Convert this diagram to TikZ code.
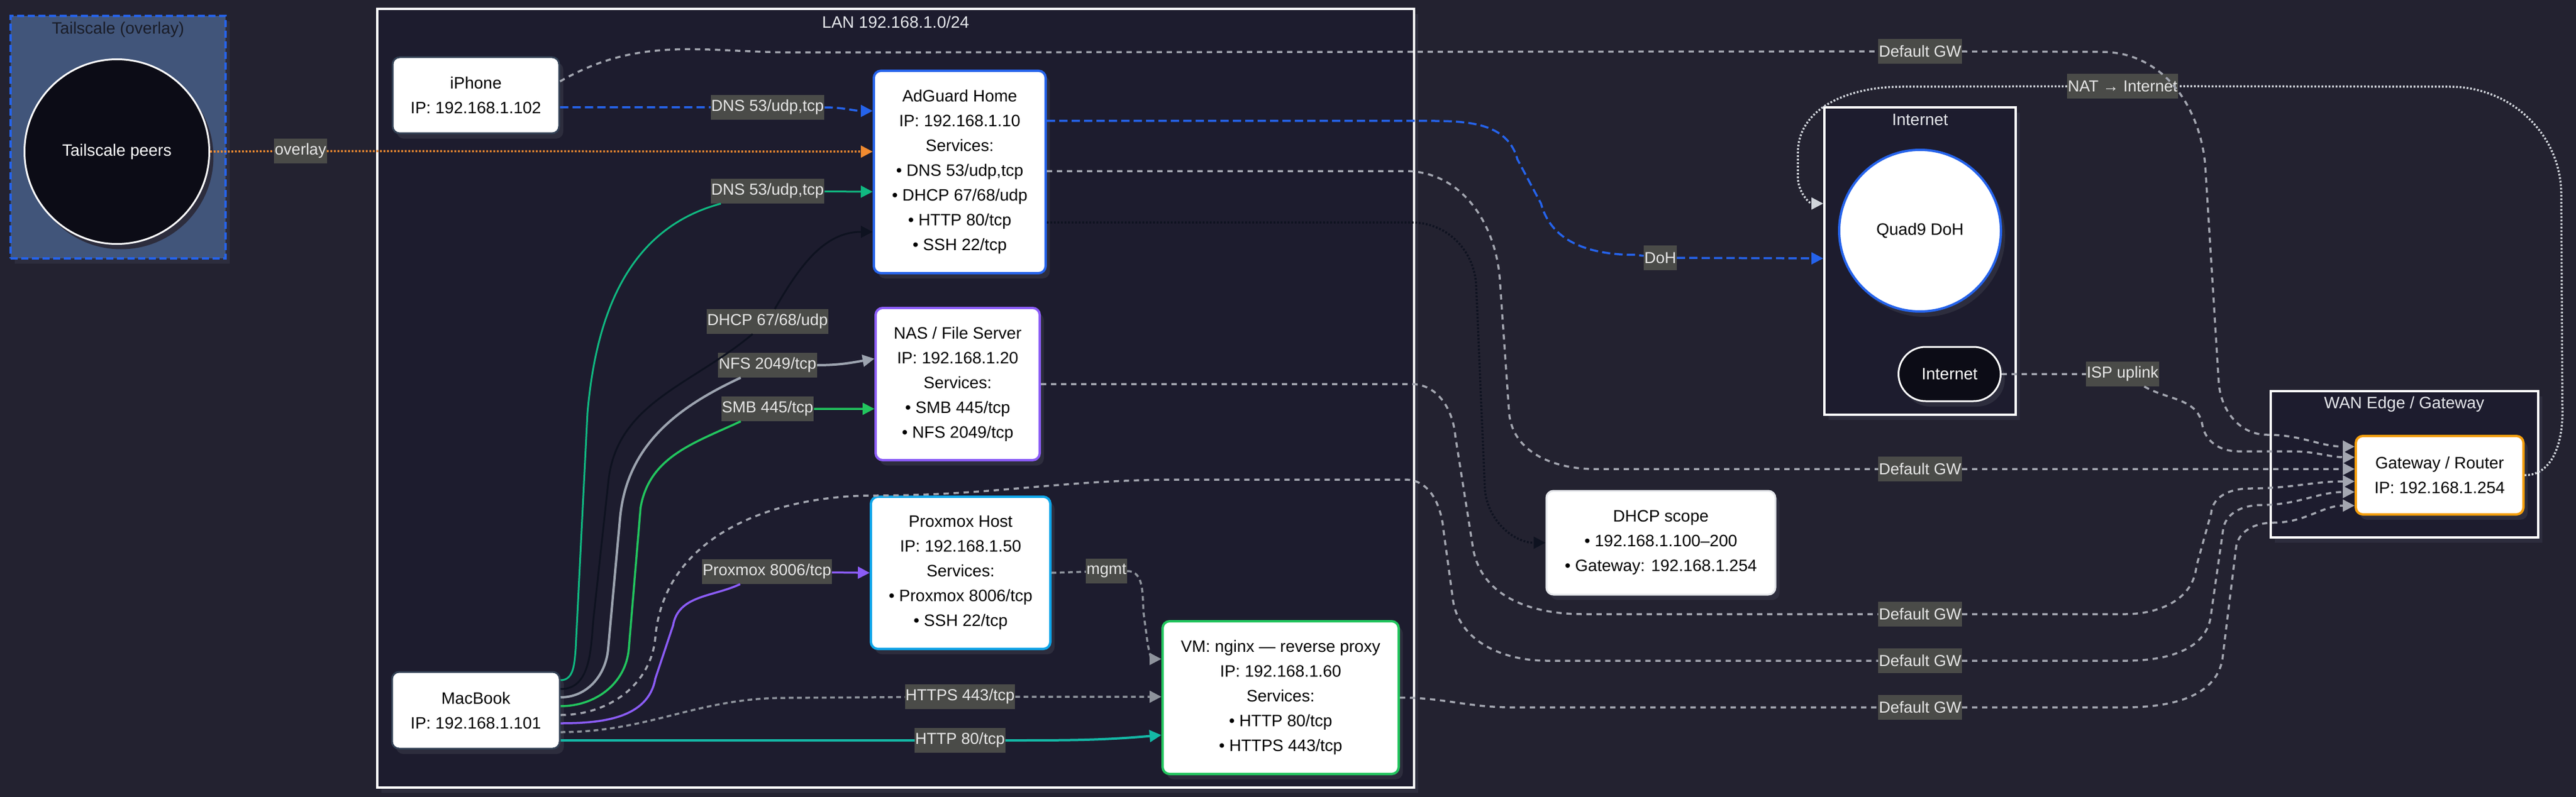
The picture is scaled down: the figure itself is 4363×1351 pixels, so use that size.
\documentclass[tikz,border=0pt]{standalone}
\usepackage{fontspec}
\setmainfont{Liberation Sans}
\usetikzlibrary{arrows.meta,shadows}

\definecolor{bgc}{HTML}{232230}
\definecolor{clusterc}{HTML}{1D1C2E}
\definecolor{shadowc}{HTML}{2D2D3D}
\definecolor{tailfill}{HTML}{41557A}
\definecolor{tailtext}{HTML}{1A1D28}
\definecolor{peerc}{HTML}{0C0C16}
\definecolor{titlec}{HTML}{E5E7EB}
\definecolor{lblc}{HTML}{4A4B48}
\definecolor{lbltext}{HTML}{E6E6E6}
\definecolor{slateb}{HTML}{334155}
\definecolor{dnsblue}{HTML}{2563EB}
\definecolor{dnsgreen}{HTML}{10B981}
\definecolor{smbc}{HTML}{22C55E}
\definecolor{nasviolet}{HTML}{8B5CF6}
\definecolor{pxcyan}{HTML}{0EA5E9}
\definecolor{vmgreen}{HTML}{22C55E}
\definecolor{gwamber}{HTML}{F59E0B}
\definecolor{scopec}{HTML}{E5E7EB}
\definecolor{overlayc}{HTML}{F28B30}
\definecolor{gwc}{HTML}{A3A6B0}
\definecolor{natc}{HTML}{D1D5DB}
\definecolor{nfsc}{HTML}{9CA3AF}
\definecolor{httpsc}{HTML}{8E939C}
\definecolor{httpc}{HTML}{14B8A6}
\definecolor{darkc}{HTML}{0E1220}

\newcommand{\hostfont}{\fontsize{28}{42}\selectfont}
\newcommand{\lblfont}{\fontsize{27}{32}\selectfont}

\begin{document}
\begin{tikzpicture}
	[x=1pt, y=1pt,
	shade box/.style = {drop shadow={shadow xshift=7pt, shadow yshift=-9pt, fill=shadowc, opacity=1}},
	host/.style = {draw=slateb, line width=3pt, fill=white, rounded corners=12pt,
		text=black, align=center, font=\hostfont, inner sep=0pt, shade box},
	cluster/.style = {draw=white, line width=4pt, fill=clusterc, inner sep=0pt, shade box},
	ctitle/.style = {text=titlec, font=\hostfont},
	lbl/.style = {fill=lblc, text=lbltext, font=\lblfont, inner xsep=1pt, inner ysep=0pt, minimum height=42pt},
	wire/.style = {line width=3.5pt, -{Triangle[length=20pt, width=20pt]}},
	dgw/.style = {wire, draw=gwc, dash pattern=on 9pt off 8pt},
	fine/.style = {wire, dash pattern=on 3pt off 3pt}]
	\fill[bgc] (0,0) rectangle (4363,-1351);
	\useasboundingbox (0,0) rectangle (4363,-1351);

	\node[cluster, draw=dnsblue, fill=tailfill, dash pattern=on 12pt off 6pt, minimum width=364pt, minimum height=411pt] (tailnet) at (200,-232.5) {};
	\node[cluster, minimum width=1756pt, minimum height=1320pt] (lan) at (1517,-675) {};
	\node[cluster, minimum width=324pt, minimum height=521pt] (inetc) at (3252,-442.5) {};
	\node[cluster, minimum width=453pt, minimum height=248pt] (wan) at (4072.5,-787) {};
	\node[ctitle, text=tailtext] (tailtitle) at (200,-50) {Tailscale (overlay)};
	\node[ctitle] (lantitle) at (1517,-37) {LAN 192.168.1.0/24};
	\node[ctitle] (inettitle) at (3252,-203) {Internet};
	\node[ctitle] (wantitle) at (4072,-685) {WAN Edge / Gateway};

	\node[host, minimum width=282pt, minimum height=129pt] (iphone) at (806,-161.5) {iPhone\\IP: 192.168.1.102};
	\node[host, draw=dnsblue, line width=4pt, minimum width=291pt, minimum height=343pt] (adguard) at (1625.5,-291.5)
		{AdGuard Home\\IP: 192.168.1.10\\Services:\\• DNS 53/udp,tcp\\• DHCP 67/68/udp\\• HTTP 80/tcp\\• SSH 22/tcp};
	\node[host, draw=nasviolet, line width=4pt, minimum width=278pt, minimum height=258pt] (nas) at (1622,-651)
		{NAS / File Server\\IP: 192.168.1.20\\Services:\\• SMB 445/tcp\\• NFS 2049/tcp};
	\node[host, draw=pxcyan, line width=4pt, minimum width=304pt, minimum height=258pt] (proxmox) at (1627,-971)
		{Proxmox Host\\IP: 192.168.1.50\\Services:\\• Proxmox 8006/tcp\\• SSH 22/tcp};
	\node[host, draw=vmgreen, line width=4pt, minimum width=400pt, minimum height=259pt] (vm) at (2169,-1182.5)
		{VM: nginx — reverse proxy\\IP: 192.168.1.60\\Services:\\• HTTP 80/tcp\\• HTTPS 443/tcp};
	\node[host, minimum width=284pt, minimum height=130pt] (macbook) at (806,-1204) {MacBook\\IP: 192.168.1.101};
	\node[host, draw=scopec, minimum width=388pt, minimum height=176pt] (scope) at (2813,-920)
		{DHCP scope\\• 192.168.1.100–200\\• Gateway: 192.168.1.254};
	\node[host, draw=gwamber, line width=4pt, minimum width=284pt, minimum height=133pt] (gateway) at (4132,-805.5) {Gateway / Router\\IP: 192.168.1.254};
	\node[host, circle, draw=dnsblue, line width=4pt, minimum size=274pt] (quad9) at (3252,-391) {Quad9 DoH};
	\node[host, fill=peerc, draw=white, text=white, rounded corners=46pt, minimum width=173pt, minimum height=92pt] (inet) at (3302,-634) {Internet};
	\node[host, circle, fill=peerc, draw=white, text=white, minimum size=313pt] (peers) at (198,-257) {Tailscale peers};

	\node[lbl] (l_overlay) at (509,-256) {overlay};
	\node[lbl] (l_dns1) at (1300,-182) {DNS 53/udp,tcp};
	\node[lbl] (l_dns2) at (1300,-324) {DNS 53/udp,tcp};
	\node[lbl] (l_dhcp) at (1300,-545) {DHCP 67/68/udp};
	\node[lbl] (l_nfs) at (1300,-619) {NFS 2049/tcp};
	\node[lbl] (l_smb) at (1300,-693) {SMB 445/tcp};
	\node[lbl] (l_px) at (1299,-969) {Proxmox 8006/tcp};
	\node[lbl] (l_mgmt) at (1874,-968) {mgmt};
	\node[lbl] (l_https) at (1626,-1181) {HTTPS 443/tcp};
	\node[lbl] (l_http) at (1626,-1255) {HTTP 80/tcp};
	\node[lbl] (l_doh) at (2812,-437) {DoH};
	\node[lbl] (l_nat) at (3595,-146) {NAT → Internet};
	\node[lbl] (l_isp) at (3595,-634) {ISP uplink};
	\node[lbl] (l_gw1) at (3252,-87) {Default GW};
	\node[lbl] (l_gw2) at (3252,-795) {Default GW};
	\node[lbl] (l_gw3) at (3252,-1041) {Default GW};
	\node[lbl] (l_gw4) at (3252,-1120) {Default GW};
	\node[lbl] (l_gw5) at (3252,-1199) {Default GW};

	\draw[fine, draw=overlayc] (peers.east) -- (l_overlay) -- ([yshift=34.5pt]adguard.west);
	\draw[wire, draw=dnsblue, dash pattern=on 14pt off 7pt] ([yshift=-20.5pt]iphone.east) -- (l_dns1) to[out=0,in=180] ([yshift=103.5pt]adguard.west);
	\draw[wire, draw=dnsblue, dash pattern=on 14pt off 7pt] ([yshift=86.5pt]adguard.east) -- (2400,-205) to[out=0,in=105] (2570,-270)
		-- (2610,-345) to[out=-75,in=180] (2770,-432) -- (l_doh) -- ([yshift=4.5pt]inetc.west);
	\draw[fine, draw=darkc] ([yshift=-85.5pt]adguard.east) -- (2390,-377) to[out=0,in=95] (2500,-480) -- (2515,-830) to[out=-85,in=180] (scope.west);

	\draw[wire, line width=3pt, draw=darkc] ([yshift=36pt]macbook.east) to[out=0,in=-95] (1005,-1050) -- (1030,-820)
		to[out=85,in=220] (l_dhcp) to[out=60,in=180] ([yshift=-101.5pt]adguard.west);
	\draw[wire, line width=3pt, draw=dnsgreen] ([yshift=51pt]macbook.east) to[out=0,in=-95] (975,-1100) -- (995,-700)
		to[out=85,in=195] (l_dns2) -- ([yshift=-33.5pt]adguard.west);
	\draw[wire, line width=4pt, draw=nfsc] ([yshift=22pt]macbook.east) to[out=0,in=-95] (1030,-1100) -- (1050,-880)
		to[out=85,in=205] (l_nfs) to[out=0,in=190] ([yshift=43pt]nas.west);
	\draw[wire, draw=smbc] ([yshift=7pt]macbook.east) to[out=0,in=-95] (1065,-1100) -- (1085,-860)
		to[out=80,in=205] (l_smb) -- ([yshift=-42pt]nas.west);
	\draw[wire, draw=nasviolet] ([yshift=-22pt]macbook.east) to[out=0,in=-100] (1110,-1150) -- (1140,-1060)
		to[out=80,in=205] (l_px) -- (proxmox.west);
	\draw[wire, draw=httpsc, dash pattern=on 8pt off 6pt] ([yshift=-37pt]macbook.east) to[out=0,in=180] (1330,-1183) -- (l_https) -- ([yshift=1.5pt]vm.west);
	\draw[wire, line width=4pt, draw=httpc] ([yshift=-51pt]macbook.east) -- (l_http) to[out=0,in=185] ([yshift=-63.5pt]vm.west);
	\draw[wire, draw=httpsc, dash pattern=on 8pt off 6pt] (proxmox.east) -- (l_mgmt) to[out=0,in=95] (1937,-1040) -- (1943,-1085)
		to[out=-85,in=180] ([yshift=65.5pt]vm.west);

	\draw[dgw] ([yshift=23.5pt]iphone.east) to[out=30,in=180] (1350,-89) -- (l_gw1) -- (3560,-88) to[out=0,in=95] (3735,-280)
		-- (3758,-650) to[out=-85,in=180] (3840,-737) to[out=0,in=180] ([yshift=48.5pt]gateway.west);
	\draw[dgw] (inet.east) -- (l_isp) to[out=-30,in=100] (3730,-720) to[out=-80,in=180] (3790,-765) -- (3880,-765)
		to[out=0,in=180] ([yshift=30.5pt]gateway.west);
	\draw[dgw] ([yshift=1.5pt]adguard.east) -- (2380,-290) to[out=0,in=95] (2540,-470) -- (2556,-700)
		to[out=-85,in=180] (2700,-795) -- (l_gw2) -- ([yshift=10.5pt]gateway.west);
	\draw[dgw] (nas.east) -- (2390,-651) to[out=0,in=95] (2465,-740) -- (2495,-930) to[out=-80,in=180] (2680,-1041)
		-- (l_gw3) -- (3600,-1041) to[out=0,in=-95] (3720,-960) -- (3745,-870) to[out=85,in=180] (3810,-828)
		to[out=0,in=180] ([yshift=-10.5pt]gateway.west);
	\draw[dgw] ([yshift=-8pt]macbook.east) to[out=0,in=-95] (1110,-1080) to[out=85,in=180] (1480,-840) to[out=0,in=180] (2000,-813)
		-- (2380,-813) to[out=0,in=95] (2445,-900) -- (2460,-1010) to[out=-85,in=180] (2620,-1120) -- (l_gw4)
		-- (3600,-1120) to[out=0,in=-95] (3745,-1040) -- (3765,-900) to[out=85,in=180] (3830,-856)
		to[out=0,in=180] ([yshift=-28.5pt]gateway.west);
	\draw[dgw] (vm.east) to[out=0,in=180] (2560,-1199) -- (l_gw5) -- (3600,-1199) to[out=0,in=-95] (3765,-1110)
		-- (3787,-930) to[out=85,in=180] (3850,-886) to[out=0,in=180] ([yshift=-51.5pt]gateway.west);
	\draw[fine, draw=natc] (gateway.east) to[out=0,in=-90] (4340,-700) -- (4338,-330) to[out=90,in=0] (4150,-147) -- (l_nat)
		-- (3220,-147) to[out=180,in=90] (3045,-260) -- (3045,-300) to[out=-90,in=180] ([yshift=97.5pt]inetc.west);
\end{tikzpicture}
\end{document}
